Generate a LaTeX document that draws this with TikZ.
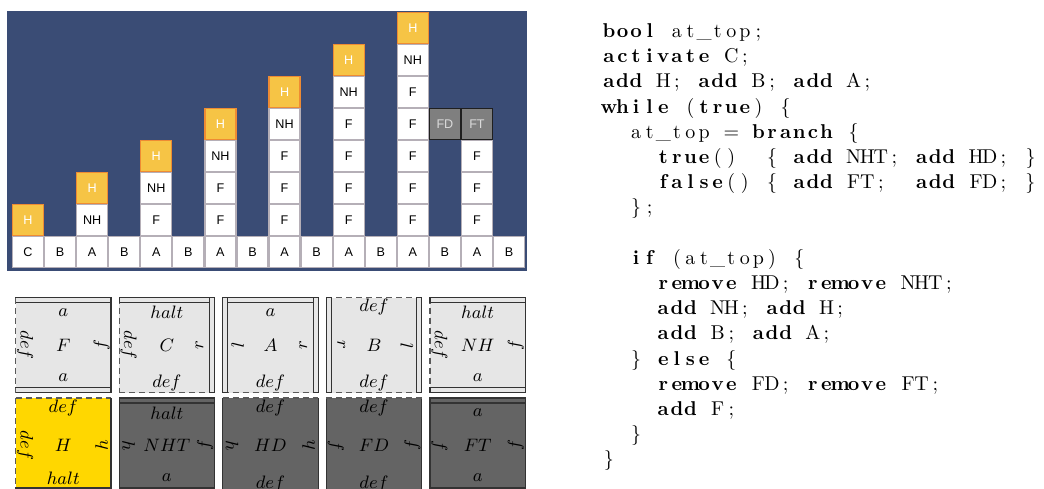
\documentclass[tikz,border=0pt]{standalone}
\usepackage{fontspec}
\newfontfamily\cellfont{Liberation Sans}
\definecolor{panelblue}{HTML}{3A4C75}
\definecolor{hfill}{HTML}{F6C445}
\definecolor{hdraw}{HTML}{EE8B33}
\definecolor{celldraw}{HTML}{B5AFB7}
\definecolor{dfill}{HTML}{7F7F7F}
\definecolor{ddraw}{HTML}{1F1F1F}
\definecolor{dtext}{HTML}{DADADA}
\definecolor{tlight}{HTML}{E6E6E6}
\definecolor{tyellow}{HTML}{FFD700}
\definecolor{tdark}{HTML}{646464}
\definecolor{edgecol}{HTML}{333333}
\definecolor{dashcol}{HTML}{5A5A5A}
% fixed-column code text
\def\cw{6.8pt}
\def\fxstop{FXSTOP}
\newcommand\fx[1]{\fxloop#1\fxstop}
\def\fxloop#1{\ifx#1\fxstop\else\makebox[\cw]{#1}\expandafter\fxloop\fi}
\newcommand\fb[1]{{\bfseries\fx{#1}}}
% tiles
\def\tfill{tlight}
\def\offband{15}
\def\offsolid{9.5}
\def\offdashed{9.5}
\newcommand\tilebody[5]{% name x y fill centre
  \def\tfill{#4}%
  \fill[#4] (#2,#3) rectangle ++(95.5,95);
  \node[tlab] (#1) at ({#2+47.75},{#3+47.5}) {$#5$};}
\newcommand\eN[5]{% name x y type label
  \path[bd-#4] (#2,#3) rectangle ++(95.5,5);
  \draw[ed-#4] (#2,#3) -- ++(95.5,0);
  \node[tlab] (#1n) at ({#2+47.75},{#3+\csname off#4\endcsname}) {$#5$};}
\newcommand\eS[5]{%
  \path[bd-#4] (#2,{#3+95}) rectangle ++(95.5,-5);
  \draw[ed-#4] (#2,{#3+95}) -- ++(95.5,0);
  \node[tlab] (#1s) at ({#2+47.75},{#3+95-\csname off#4\endcsname}) {$#5$};}
\newcommand\eW[5]{%
  \path[bd-#4] (#2,#3) rectangle ++(5,95);
  \draw[ed-#4] (#2,#3) -- ++(0,95);
  \node[tlab,rotate=-90] (#1w) at ({#2+\csname off#4\endcsname},{#3+47.5}) {$#5$};}
\newcommand\eE[5]{%
  \path[bd-#4] ({#2+95.5},#3) rectangle ++(-5,95);
  \draw[ed-#4] ({#2+95.5},#3) -- ++(0,95);
  \node[tlab,rotate=90] (#1e) at ({#2+95.5-\csname off#4\endcsname},{#3+47.5}) {$#5$};}
\tikzset{
  cellw/.style={draw=celldraw, fill=white, line width=0.6pt, minimum size=15.5pt,
    inner sep=0pt, font=\cellfont\fontsize{6.3}{7}\selectfont, text=black},
  cellh/.style={cellw, draw=hdraw, fill=hfill, text=white},
  celld/.style={cellw, draw=ddraw, fill=dfill, text=dtext},
  tlab/.style={inner sep=0pt, font=\fontsize{9}{10}\selectfont, text=black},
  bd-band/.style={fill=\tfill, draw=edgecol, line width=0.6pt},
  bd-solid/.style={},
  bd-dashed/.style={},
  ed-band/.style={draw=edgecol, line width=0.6pt},
  ed-solid/.style={draw=edgecol, line width=0.6pt},
  ed-dashed/.style={draw=dashcol, line width=0.6pt, dash pattern=on 3pt off 2pt},
  codeline/.style={anchor=base west, inner sep=0pt, font=\fontsize{10}{12}\selectfont}
}
\begin{document}
\begin{tikzpicture}[x=0.5pt,y=-0.5pt]
\useasboundingbox (0,0) rectangle (1044,488);
\clip (0,0) rectangle (1044,488);
% ---------- top panel ----------
\fill[panelblue] (7,11) rectangle (527,271);
\foreach \i in {0,...,15}
  \node[cellw] (b\i) at ({28+32.07*\i},252) {\ifnum\i=0 C\else\ifodd\i B\else A\fi\fi};
\foreach \j in {0,...,6}{
  \pgfmathtruncatemacro\c{2*\j}
  \pgfmathtruncatemacro\jm{\j-1}
  \pgfmathtruncatemacro\jp{\j+1}
  \ifnum\j>1
    \foreach \r in {1,...,\jm}
      \node[cellw] (s\c-\r) at ({28+32.07*\c},{252-32*\r}) {F};
  \fi
  \ifnum\j>0
    \node[cellw] (s\c-\j) at ({28+32.07*\c},{252-32*\j}) {NH};
  \fi
  \node[cellh] (s\c-\jp) at ({28+32.07*\c},{252-32*\jp}) {H};
}
\node[celld] (s13-4) at ({28+32.07*13},{252-32*4}) {FD};
\foreach \r in {1,2,3}
  \node[cellw] (s14-\r) at ({28+32.07*14},{252-32*\r}) {F};
\node[celld] (s14-4) at ({28+32.07*14},{252-32*4}) {FT};
% ---------- tiles, first row ----------
\tilebody{tF}{15.5}{297.7}{tlight}{F}
\eN{tF}{15.5}{297.7}{band}{a}
\eS{tF}{15.5}{297.7}{band}{a}
\eW{tF}{15.5}{297.7}{dashed}{def}
\eE{tF}{15.5}{297.7}{solid}{f}
\tilebody{tC}{119.1}{297.7}{tlight}{C}
\eS{tC}{119.1}{297.7}{dashed}{def}
\eW{tC}{119.1}{297.7}{dashed}{def}
\eN{tC}{119.1}{297.7}{band}{halt}
\eE{tC}{119.1}{297.7}{band}{r}
\tilebody{tA}{222.7}{297.7}{tlight}{A}
\eS{tA}{222.7}{297.7}{dashed}{def}
\eN{tA}{222.7}{297.7}{band}{a}
\eW{tA}{222.7}{297.7}{band}{l}
\eE{tA}{222.7}{297.7}{band}{r}
\tilebody{tB}{326.3}{297.7}{tlight}{B}
\eN{tB}{326.3}{297.7}{dashed}{def}
\eS{tB}{326.3}{297.7}{dashed}{def}
\eW{tB}{326.3}{297.7}{band}{r}
\eE{tB}{326.3}{297.7}{band}{l}
\tilebody{tNH}{429.9}{297.7}{tlight}{NH}
\eW{tNH}{429.9}{297.7}{dashed}{def}
\eE{tNH}{429.9}{297.7}{solid}{f}
\eN{tNH}{429.9}{297.7}{band}{halt}
\eS{tNH}{429.9}{297.7}{band}{a}
% ---------- tiles, second row ----------
\tilebody{tH}{15.5}{398}{tyellow}{H}
\eN{tH}{15.5}{398}{dashed}{def}
\eW{tH}{15.5}{398}{dashed}{def}
\eE{tH}{15.5}{398}{solid}{h}
\eS{tH}{15.5}{398}{band}{halt}
\tilebody{tNHT}{119.1}{398}{tdark}{NHT}
\eW{tNHT}{119.1}{398}{solid}{h}
\eE{tNHT}{119.1}{398}{solid}{f}
\eN{tNHT}{119.1}{398}{band}{halt}
\eS{tNHT}{119.1}{398}{band}{a}
\tilebody{tHD}{222.7}{398}{tdark}{HD}
\eW{tHD}{222.7}{398}{solid}{h}
\eE{tHD}{222.7}{398}{solid}{h}
\eN{tHD}{222.7}{398}{dashed}{def}
\eS{tHD}{222.7}{398}{dashed}{def}
\tilebody{tFD}{326.3}{398}{tdark}{FD}
\eW{tFD}{326.3}{398}{solid}{f}
\eE{tFD}{326.3}{398}{solid}{f}
\eN{tFD}{326.3}{398}{dashed}{def}
\eS{tFD}{326.3}{398}{dashed}{def}
\tilebody{tFT}{429.9}{398}{tdark}{FT}
\eW{tFT}{429.9}{398}{solid}{f}
\eE{tFT}{429.9}{398}{solid}{f}
\eN{tFT}{429.9}{398}{band}{a}
\eS{tFT}{429.9}{398}{band}{a}
% ---------- code ----------
\node[codeline] (l1)  at (601.7,37.5)  {\fb{bool}\fx{~at\_top;}};
\node[codeline] (l2)  at (601.7,62.7)  {\fb{activate}\fx{~C;}};
\node[codeline] (l3)  at (601.7,87.9)  {\fb{add}\fx{~H;~}\fb{add}\fx{~B;~}\fb{add}\fx{~A;}};
\node[codeline] (l4)  at (601.7,113.1) {\fb{while}\fx{~(}\fb{true}\fx{)~\{}};
\node[codeline] (l5)  at (601.7,138.3) {\fx{~~at\_top~=~}\fb{branch}\fx{~\{}};
\node[codeline] (l6)  at (601.7,163.5) {\fx{~~~~}\fb{true}\fx{()~~\{~}\fb{add}\fx{~NHT;~}\fb{add}\fx{~HD;~\}}};
\node[codeline] (l7)  at (601.7,188.7) {\fx{~~~~}\fb{false}\fx{()~\{~}\fb{add}\fx{~FT;~~}\fb{add}\fx{~FD;~\}}};
\node[codeline] (l8)  at (601.7,213.9) {\fx{~~\};}};
\node[codeline] (l10) at (601.7,264.3) {\fx{~~}\fb{if}\fx{~(at\_top)~\{}};
\node[codeline] (l11) at (601.7,289.5) {\fx{~~~~}\fb{remove}\fx{~HD;~}\fb{remove}\fx{~NHT;}};
\node[codeline] (l12) at (601.7,314.7) {\fx{~~~~}\fb{add}\fx{~NH;~}\fb{add}\fx{~H;}};
\node[codeline] (l13) at (601.7,339.9) {\fx{~~~~}\fb{add}\fx{~B;~}\fb{add}\fx{~A;}};
\node[codeline] (l14) at (601.7,365.1) {\fx{~~\}~}\fb{else}\fx{~\{}};
\node[codeline] (l15) at (601.7,390.3) {\fx{~~~~}\fb{remove}\fx{~FD;~}\fb{remove}\fx{~FT;}};
\node[codeline] (l16) at (601.7,415.5) {\fx{~~~~}\fb{add}\fx{~F;}};
\node[codeline] (l17) at (601.7,440.7) {\fx{~~\}}};
\node[codeline] (l18) at (601.7,465.9) {\fx{\}}};
\end{tikzpicture}
\end{document}
